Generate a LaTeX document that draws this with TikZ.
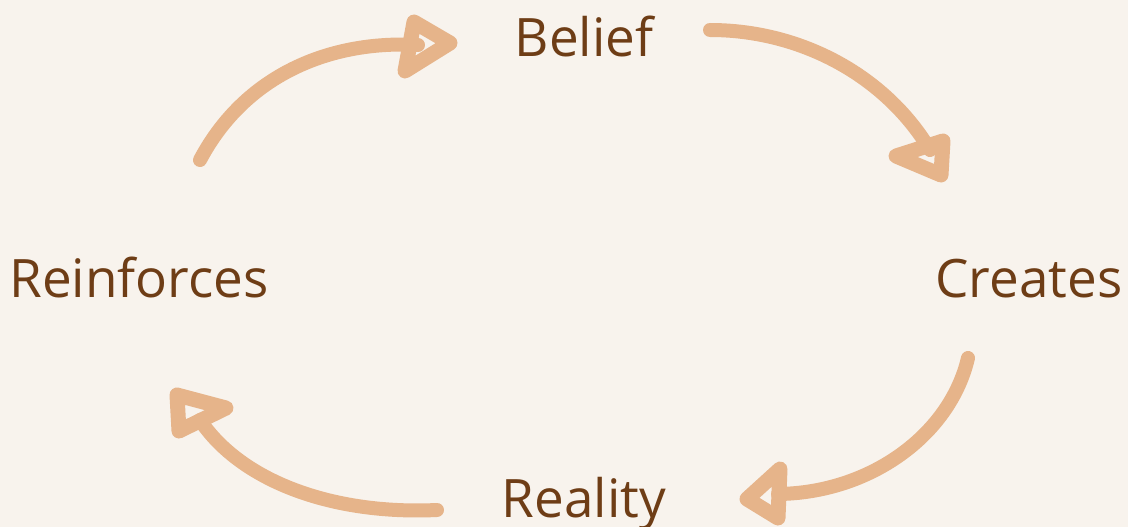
\documentclass[tikz,border=0pt]{standalone}
\usepackage{fontspec}
\setmainfont{Open Sans}
\definecolor{bg}{HTML}{F8F3ED}
\definecolor{arr}{HTML}{E6B48A}
\definecolor{txt}{HTML}{6E3D16}
\begin{document}
\begin{tikzpicture}[x=1pt,y=-1pt,
  lbl/.style={text=txt,font=\fontsize{53}{60}\selectfont,anchor=base,inner sep=0pt},
  stroke/.style={draw=arr,line width=14pt,line cap=round,line join=round},
  headstroke/.style={draw=arr,line width=15pt,line cap=round,line join=round}]
\fill[bg] (0,0) rectangle (1128,527);
\useasboundingbox (0,0) rectangle (1128,527);
\node[lbl] (belief) at (584,57) {Belief};
\node[lbl] (creates) at (1029,297) {Creates};
\node[lbl] (reinf) at (139,297) {Reinforces};
\node[lbl] (reality) at (584,517) {Reality};
% arrow 1
\draw[stroke] (200,160) .. controls (245,75) and (330,40) .. (418,45);
\draw[headstroke] (414,22) -- (450,43) -- (405,71) -- cycle;
% arrow 2
\draw[stroke] (710,30) .. controls (800,30) and (885,75) .. (930,150);
\draw[headstroke] (896,156) -- (943,141) -- (941,175) -- cycle;
% arrow 3
\draw[stroke] (968,358) .. controls (950,435) and (870,493) .. (778,494);
\draw[headstroke] (780,469) -- (747,499) -- (778,518) -- cycle;
% arrow 4
\draw[stroke] (437,510) .. controls (330,515) and (240,480) .. (200,420);
\draw[headstroke] (177,395) -- (226,408) -- (179,431) -- cycle;
\end{tikzpicture}
\end{document}
